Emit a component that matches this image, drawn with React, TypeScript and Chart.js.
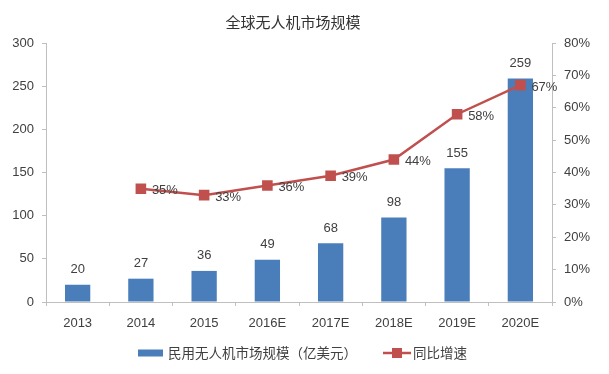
import React, { useEffect, useRef } from 'react';
import { Chart, registerables } from 'chart.js';
Chart.register(...registerables);

const categories = ['2013', '2014', '2015', '2016E', '2017E', '2018E', '2019E', '2020E'];
const marketSize = [20, 27, 36, 49, 68, 98, 155, 259];
const growthRate: (number | null)[] = [null, 35, 33, 36, 39, 44, 58, 67];
const titleText = '全球无人机市场规模';
const barLabel = '民用无人机市场规模（亿美元）';
const lineLabel = '同比增速';

const BLUE = '#4a7ebb';
const RED = '#c0504d';
const TEXT = '#404040';
const AXIS = '#bfbfbf';
const NUM_FONT = "'Liberation Sans', Arial, sans-serif";
const CJK_FONT = "'Noto Sans CJK SC', 'Noto Sans', sans-serif";

const decorPlugin = {
  id: 'decor',
  afterDatasetsDraw(chart: any) {
    const ctx = chart.ctx;
    ctx.save();
    const barMeta = chart.getDatasetMeta(0);
    ctx.fillStyle = TEXT;
    ctx.font = `13px ${NUM_FONT}`;
    ctx.textAlign = 'center';
    ctx.textBaseline = 'middle';
    barMeta.data.forEach((el: any, i: number) => {
      ctx.fillText(String(marketSize[i]), el.x, el.y - 15);
    });
    const lineMeta = chart.getDatasetMeta(1);
    ctx.textAlign = 'left';
    lineMeta.data.forEach((el: any, i: number) => {
      const v = growthRate[i];
      if (v == null) return;
      ctx.fillText(v + '%', el.x + 11, el.y + 2);
    });
    ctx.restore();
  },
  afterDraw(chart: any) {
    const ctx = chart.ctx;
    ctx.save();
    ctx.fillStyle = '#333333';
    ctx.font = `15px ${CJK_FONT}`;
    ctx.textAlign = 'center';
    ctx.textBaseline = 'middle';
    ctx.fillText(titleText, 293, 22);
    const ly = 353;
    ctx.fillStyle = BLUE;
    ctx.fillRect(138, ly - 3.5, 25, 7);
    ctx.fillStyle = TEXT;
    ctx.font = `13.5px ${CJK_FONT}`;
    ctx.textAlign = 'left';
    ctx.fillText(barLabel, 168, ly);
    ctx.strokeStyle = RED;
    ctx.lineWidth = 2.5;
    ctx.beginPath();
    ctx.moveTo(383, ly);
    ctx.lineTo(411, ly);
    ctx.stroke();
    ctx.fillStyle = RED;
    ctx.fillRect(397 - 5, ly - 5, 10, 10);
    ctx.fillStyle = TEXT;
    ctx.fillText(lineLabel, 413, ly);
    ctx.restore();
  },
};

export default function App() {
  const ref = useRef<HTMLCanvasElement | null>(null);
  useEffect(() => {
    if (!ref.current) return;
    const chart = new Chart(ref.current, {
      type: 'bar',
      data: {
        labels: categories,
        datasets: [
          {
            type: 'bar',
            label: barLabel,
            data: marketSize,
            backgroundColor: BLUE,
            yAxisID: 'y',
            barPercentage: 0.4,
            categoryPercentage: 1,
            order: 1,
          },
          {
            type: 'line',
            label: lineLabel,
            data: growthRate as any,
            borderColor: RED,
            backgroundColor: RED,
            borderWidth: 2.5,
            pointStyle: 'rect',
            pointRadius: 7.5,
            pointBorderWidth: 0,
            yAxisID: 'y1',
            tension: 0,
            spanGaps: false,
            order: 0,
          } as any,
        ],
      },
      options: {
        responsive: false,
        animation: false,
        layout: { padding: { top: 43, left: 0, right: 0, bottom: 0 } },
        plugins: {
          legend: { display: false },
          title: { display: false },
          tooltip: { enabled: false },
        },
        scales: {
          x: {
            grid: { display: true, drawOnChartArea: false, drawTicks: true, tickLength: 4, color: AXIS, offset: true },
            border: { display: true, color: AXIS },
            ticks: { color: TEXT, font: { family: NUM_FONT, size: 13 }, padding: 10, maxRotation: 0 },
            afterFit: (s: any) => { s.height = 72; },
          },
          y: {
            position: 'left',
            min: 0,
            max: 300,
            grid: { display: true, drawOnChartArea: false, drawTicks: true, tickLength: 4, color: AXIS },
            border: { display: true, color: AXIS },
            ticks: { stepSize: 50, color: TEXT, font: { family: NUM_FONT, size: 13 }, padding: 8 },
            afterFit: (s: any) => { s.width = 46; },
          },
          y1: {
            position: 'right',
            min: 0,
            max: 80,
            grid: { display: true, drawOnChartArea: false, drawTicks: true, tickLength: 4, color: AXIS },
            border: { display: true, color: AXIS },
            ticks: { stepSize: 10, color: TEXT, font: { family: NUM_FONT, size: 13 }, padding: 8, callback: (v: any) => v + '%' },
            afterFit: (s: any) => { s.width = 57; },
          },
        },
      },
      plugins: [decorPlugin],
    });
    return () => chart.destroy();
  }, []);
  return (
    <div style={{ position: 'absolute', left: 0, top: 0, width: 609, height: 374, background: '#fff' }}>
      <canvas ref={ref} width={609} height={374} style={{ display: 'block' }} />
    </div>
  );
}
